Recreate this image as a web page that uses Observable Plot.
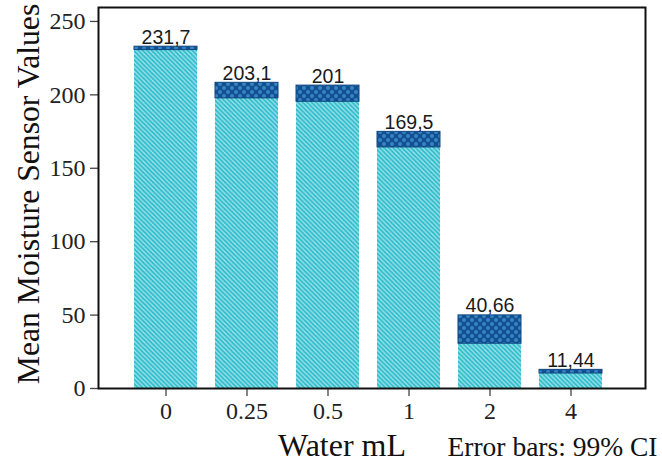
<!DOCTYPE html>
<html><head><meta charset="utf-8">
<script src="https://cdn.jsdelivr.net/npm/d3@7"></script>
<script src="https://cdn.jsdelivr.net/npm/@observablehq/plot@0.6"></script>
<style>body{margin:0;background:#fff}</style>
</head><body><div id="chart"></div>
<script>
const categories = ["0", "0.25", "0.5", "1", "2", "4"];
const means = [231.7, 203.1, 201, 169.5, 40.66, 11.44];
const ciLower = [230.5, 197.6, 195.3, 164.2, 30.5, 10.2];
const ciUpper = [232.8, 208.2, 206.3, 174.8, 49.8, 12.7];
const valueLabels = ["231,7", "203,1", "201", "169,5", "40,66", "11,44"];
const yTicks = [0, 50, 100, 150, 200, 250];

const rows = categories.map((c, i) => ({
  water: c, mean: means[i], lo: ciLower[i], hi: ciUpper[i], label: valueLabels[i]
}));

const serif = "'Liberation Serif', 'Times New Roman', serif";
const sans = "'Liberation Sans', Arial, sans-serif";

const chart = Plot.plot({
  width: 662,
  height: 465,
  marginLeft: 98,
  marginRight: 17,
  marginTop: 7,
  marginBottom: 77,
  style: {fontFamily: serif, background: "#fff"},
  x: {domain: categories, paddingInner: 0.224, paddingOuter: 0.48, align: 0.46},
  y: {domain: [0, 259.5]},
  marks: [
    Plot.barY(rows, {x: "water", y: "mean", fill: "url(#stripes)"}),
    Plot.rectY(rows, {x: "water", y1: "lo", y2: "hi", fill: "url(#hatch)", stroke: "#0e467f", strokeWidth: 1}),
    Plot.text(rows, {x: "water", y: "hi", text: "label", lineAnchor: "bottom", dy: -3,
      fontFamily: sans, fontSize: 19.5, fill: "#1a1a1a"}),
    Plot.axisY({ticks: yTicks, tickSize: 8, tickPadding: 5, fontSize: 24, fontFamily: serif,
      label: null, stroke: "#444", strokeWidth: 1.3, fill: "#222"}),
    Plot.axisX({tickSize: 8, tickPadding: 5, fontSize: 24, fontFamily: serif, label: null,
      stroke: "#444", strokeWidth: 1.3, fill: "#222"}),
    Plot.frame({stroke: "#111", strokeWidth: 2}),
    Plot.text(["Mean Moisture Sensor Values"], {frameAnchor: "left", dx: -70, dy: -4, rotate: -90,
      textAnchor: "middle", lineAnchor: "middle", fontSize: 31.7, fontFamily: serif, fill: "#111"}),
    Plot.text(["Water mL"], {frameAnchor: "bottom", dx: -30, dy: 67, textAnchor: "middle",
      lineAnchor: "bottom", fontSize: 32, fontFamily: serif, fill: "#111"}),
    Plot.text(["Error bars: 99% CI"], {frameAnchor: "bottom-right", dx: 12, dy: 67, textAnchor: "end",
      lineAnchor: "bottom", fontSize: 27.5, fontFamily: serif, fill: "#111"})
  ]
});

const svg = chart.tagName.toLowerCase() === "svg" ? chart : chart.querySelector("svg");
const defs = d3.select(svg).insert("defs", ":first-child");
const st = defs.append("pattern").attr("id", "stripes").attr("patternUnits", "userSpaceOnUse")
  .attr("width", 4.5).attr("height", 4.5);
st.append("rect").attr("width", 4.5).attr("height", 4.5).attr("fill", "#2fbccb");
st.append("path").attr("d", "M-1,-1L5.5,5.5M-1,3.5L1,5.5M3.5,-1L5.5,1")
  .attr("stroke", "#a3e5eb").attr("stroke-width", 1.3);
const ht = defs.append("pattern").attr("id", "hatch").attr("patternUnits", "userSpaceOnUse")
  .attr("width", 8).attr("height", 8);
ht.append("rect").attr("width", 8).attr("height", 8).attr("fill", "#134f91");
for (const [cx, cy] of [[0,0],[8,0],[0,8],[8,8],[4,4]]) {
  ht.append("circle").attr("cx", cx).attr("cy", cy).attr("r", 2).attr("fill", "#3585c4");
}
document.getElementById("chart").appendChild(chart);
</script>
</body></html>
